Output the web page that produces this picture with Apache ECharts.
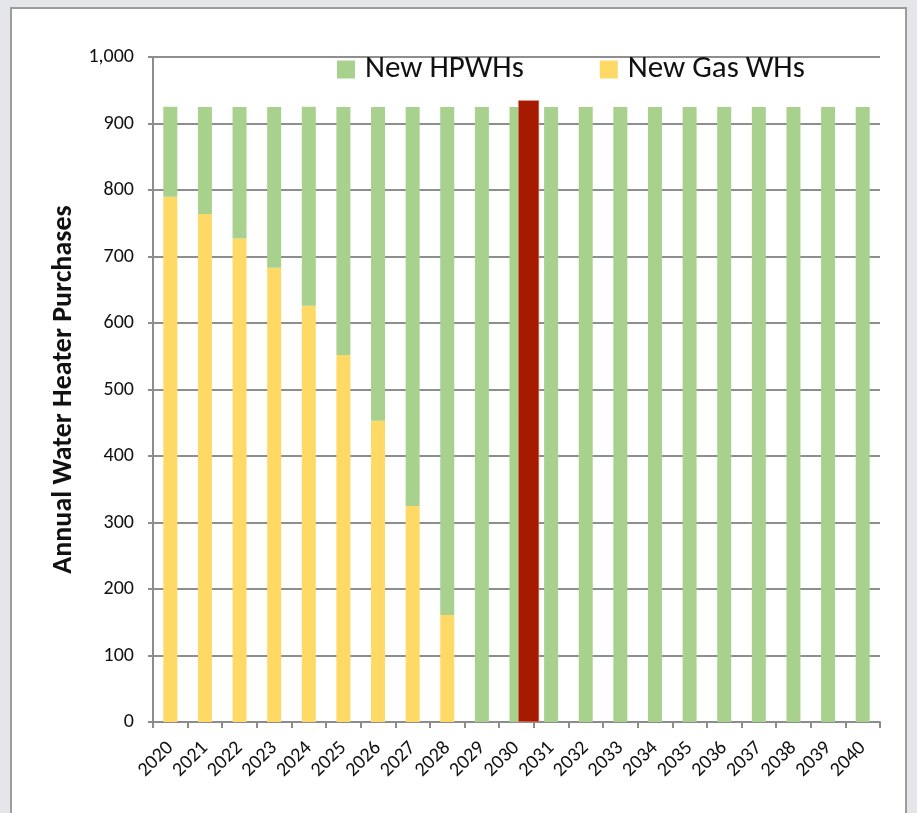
<!DOCTYPE html>
<html>
<head>
<meta charset="utf-8">
<script src="https://cdn.jsdelivr.net/npm/echarts@6/dist/echarts.min.js"></script>
<style>
html,body{margin:0;padding:0;background:#e5e6e9;}
#chart{width:917px;height:813px;}
</style>
</head>
<body>
<div id="chart"></div>
<script>
const years = ['2020','2021','2022','2023','2024','2025','2026','2027','2028','2029','2030','2031','2032','2033','2034','2035','2036','2037','2038','2039','2040'];
const gasWHs = [790, 764, 727, 683, 626, 552, 453, 325, 161, 0, 0, 0, 0, 0, 0, 0, 0, 0, 0, 0, 0];
const hpWHs = [135, 161, 198, 242, 299, 373, 472, 600, 764, 925, 925, 925, 925, 925, 925, 925, 925, 925, 925, 925, 925];
const marker = [[10.35, 935]];
const yTicks = [0, 100, 200, 300, 400, 500, 600, 700, 800, 900, 1000];

const FONT = 'Carlito, "Open Sans", sans-serif';
const chart = echarts.init(document.getElementById('chart'), null, {renderer: 'canvas'});
chart.setOption({
  backgroundColor: 'transparent',
  animation: false,
  graphic: [{
    type: 'rect', z: -10, silent: true,
    shape: {x: 11, y: 8, width: 895, height: 830},
    style: {fill: '#ffffff', stroke: '#9c9c9c', lineWidth: 2}
  }],
  grid: {left: 153, right: 37, top: 57, bottom: 91, containLabel: false},
  legend: {
    left: 332, top: 49,
    itemWidth: 18, itemHeight: 18, itemGap: 76,
    icon: 'rect',
    data: ['New HPWHs', 'New Gas WHs'],
    textStyle: {fontFamily: FONT, fontSize: 31, color: '#111', padding: [0, 0, 0, 5]}
  },
  xAxis: [{
    type: 'category', data: years, boundaryGap: true,
    axisLine: {lineStyle: {color: '#8c8c8c', width: 2}},
    axisTick: {show: true, length: 6, interval: 0, alignWithLabel: false, lineStyle: {color: '#8c8c8c', width: 2}},
    axisLabel: {rotate: 45, interval: 0, margin: 23, fontFamily: FONT, fontSize: 20, color: '#111'}
  }, {
    type: 'value', min: -0.5, max: 20.5, show: false
  }],
  yAxis: {
    type: 'value', min: 0, max: 1000, interval: 100,
    name: 'Annual Water Heater Purchases', nameLocation: 'middle', nameGap: 72,
    nameTextStyle: {fontFamily: FONT, fontSize: 28, fontWeight: 'bold', color: '#111'},
    axisLine: {show: true, onZero: false, lineStyle: {color: '#8c8c8c', width: 2}},
    axisTick: {show: true, length: 5, lineStyle: {color: '#8c8c8c', width: 2}},
    splitLine: {lineStyle: {color: '#8e8e8e', width: 2}},
    axisLabel: {margin: 19, fontFamily: FONT, fontSize: 20, color: '#111',
      formatter: v => v.toLocaleString('en-US')}
  },
  series: [{
    name: 'New Gas WHs', type: 'bar', stack: 'wh', data: gasWHs, barWidth: 14,
    itemStyle: {color: '#ffd966'}
  }, {
    name: 'New HPWHs', type: 'bar', stack: 'wh', data: hpWHs, barWidth: 14,
    itemStyle: {color: '#a9d18e'}
  }, {
    name: 'marker', type: 'bar', xAxisIndex: 1, data: marker, barWidth: 21, z: 5,
    itemStyle: {color: '#a61b00', borderColor: '#e8a090', borderWidth: 0.5}
  }]
});
</script>
</body>
</html>
